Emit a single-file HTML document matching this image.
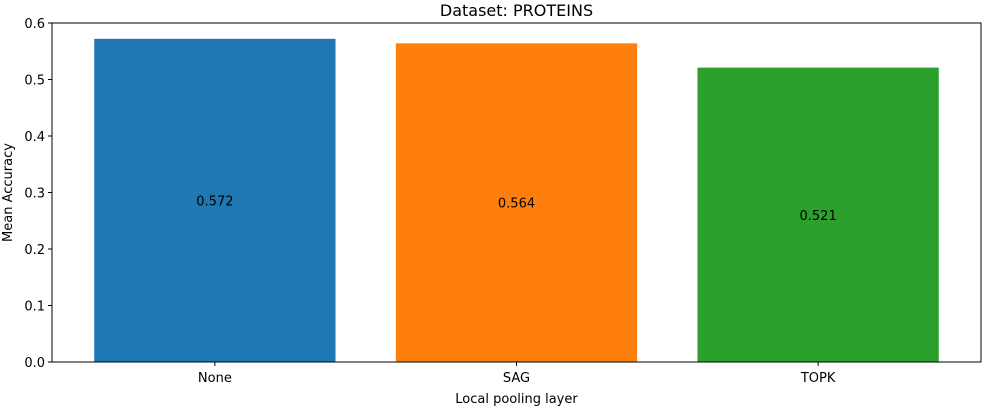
<!DOCTYPE html>
<html><head><meta charset="utf-8"><style>
body{margin:0;background:#fff;}
svg{display:block;font-family:"DejaVu Sans","Liberation Sans",sans-serif;}
</style></head><body>
<svg id="chart" width="982" height="406"></svg>
<script>
const categories = ["None","SAG","TOPK"];
const values = [0.572,0.564,0.521];
const valueLabels = ["0.572","0.564","0.521"];
const colors = ["#1f77b4","#ff7f0e","#2ca02c"];
const yTicks = [0.0,0.1,0.2,0.3,0.4,0.5,0.6];
const yTickLabels = ["0.0","0.1","0.2","0.3","0.4","0.5","0.6"];

const NS="http://www.w3.org/2000/svg";
const svg=document.getElementById('chart');
const L=52,R=981,T=23,B=362;
const xMin=-0.54,xMax=categories.length-1+0.54;
const x=v=>L+(v-xMin)/(xMax-xMin)*(R-L);
const y=v=>B-(v/0.6)*(B-T);
function mk(tag,attrs,txt){const e=document.createElementNS(NS,tag);for(const k in attrs)e.setAttribute(k,attrs[k]);if(txt!==undefined)e.textContent=txt;svg.appendChild(e);return e;}

categories.forEach((c,i)=>{
  const x0=x(i-0.4),x1=x(i+0.4);
  const r=mk('rect',{x:x0,y:y(values[i]),width:x1-x0,height:B-y(values[i]),fill:colors[i]});
  
  
  const t=mk('text',{x:x(i),y:y(values[i]/2)+5,'text-anchor':'middle','font-size':13,fill:'#000'},valueLabels[i]);
  
  
  mk('line',{x1:x(i),x2:x(i),y1:B,y2:B+4,stroke:'#000'});
  const tl=mk('text',{x:x(i),y:B+20,'text-anchor':'middle','font-size':13},c);
  
  
});
yTicks.forEach((v,i)=>{
  mk('line',{x1:L-4,x2:L,y1:y(v),y2:y(v),stroke:'#000'});
  const t=mk('text',{x:L-7,y:y(v)+5,'text-anchor':'end','font-size':13},yTickLabels[i]);
  
  
});
const frame=mk('rect',{x:L,y:T,width:R-L,height:B-T,fill:'none',stroke:'#000','stroke-width':1});


const title=mk('text',{x:(L+R)/2,y:16,'text-anchor':'middle','font-size':16},'Dataset: PROTEINS');


const xt=mk('text',{x:(L+R)/2,y:403,'text-anchor':'middle','font-size':13},'Local pooling layer');


const yt=mk('text',{x:0,y:0,'text-anchor':'middle','font-size':13,transform:'translate(12,'+((T+B)/2)+') rotate(-90)'},'Mean Accuracy');


</script>
</body></html>
